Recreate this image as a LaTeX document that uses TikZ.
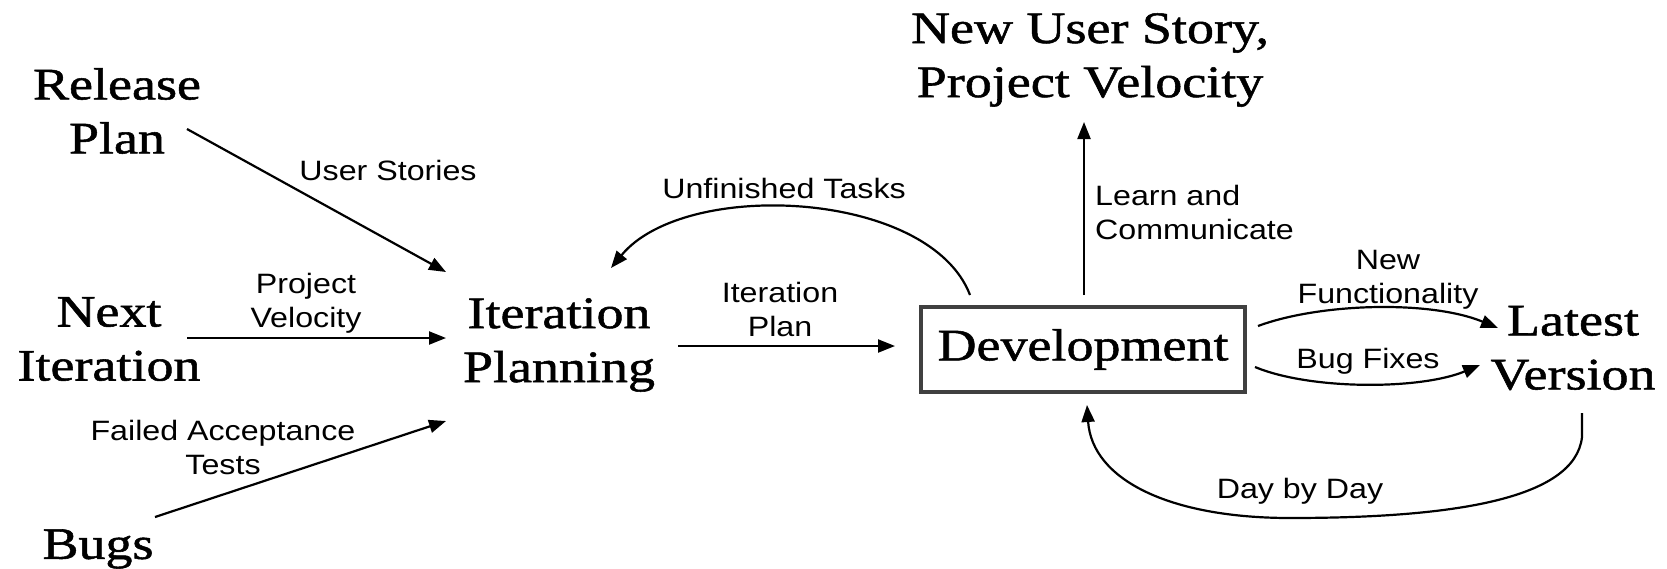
\documentclass[tikz,border=0pt]{standalone}
\usepackage{fontspec}
\usetikzlibrary{arrows.meta}
\newfontfamily\serifbig[FakeStretch=1.2, FakeBold=1.2]{Liberation Serif}
\newfontfamily\sanslbl[FakeStretch=1.15]{Liberation Sans}
\tikzset{
  big/.style={font=\serifbig\fontsize{45}{54}\selectfont, align=center, inner sep=0pt},
  lbl/.style={font=\sanslbl\fontsize{28}{34}\selectfont, align=center, inner sep=0pt},
  flow/.style={line width=2.2pt, -{Triangle[length=17pt,width=13pt]}},
  devbox/.style={draw=black!75, line width=3.5pt, minimum width=324pt, minimum height=85pt, inner sep=0pt}
}
\begin{document}
\begin{tikzpicture}[x=1pt, y=-1pt]
\useasboundingbox (0,0) rectangle (1667,568);

% main stations
\node[big] (rel)  at (117,111) {Release\\Plan};
\node[big] (next) at (109,339) {Next\\Iteration};
\node[big] (bugs) at (98,549)  {Bugs};
\node[big] (ip)   at (559,345) {Iteration\\Planning};
\node[big, devbox] (dev) at (1083,349.5) {Development};
\node[big] (lat)  at (1573,348) {Latest\\Version};
\node[big] (nus)  at (1090,60)  {New User Story,\\Project Velocity};

% connector end points
\coordinate (relOut)  at (187,129);
\coordinate (ipInA)   at (446,272);
\coordinate (nextOut) at (187,338);
\coordinate (ipInB)   at (446,338);
\coordinate (bugsOut) at (155,517);
\coordinate (ipInC)   at (446,421);
\coordinate (ipOut)   at (678,346);
\coordinate (devIn)   at (895,346);
\coordinate (devTopL) at (970,295);
\coordinate (ipTop)   at (611,268);
\coordinate (devTop)  at (1084,295);
\coordinate (nusIn)   at (1084,122);
\coordinate (devOutA) at (1258,326);
\coordinate (latInA)  at (1498,328);
\coordinate (devOutB) at (1255,367);
\coordinate (latInB)  at (1480,365);
\coordinate (latOut)  at (1582,413);
\coordinate (devBot)  at (1087,405);

% inputs to iteration planning
\draw[flow] (relOut) -- (ipInA);
\draw[flow] (nextOut) -- (ipInB);
\draw[flow] (bugsOut) -- (ipInC);
\node[lbl, anchor=base] (lUS) at (388,180) {User Stories};
\node[lbl] (lPV) at (306,303.5) {Project\\Velocity};
\node[lbl] (lFA) at (223,447.5) {Failed Acceptance\\Tests};

% iteration planning to development
\draw[flow] (ipOut) -- (devIn);
\node[lbl] (lIP) at (780,309.5) {Iteration\\Plan};

% unfinished tasks loop
\draw[flow] (devTopL) .. controls (930,190) and (685,178) .. (ipTop);
\node[lbl, anchor=base] (lUT) at (784,198) {Unfinished Tasks};

% learn and communicate
\draw[flow] (devTop) -- (nusIn);
\node[lbl, anchor=west, align=left] (lLC) at (1095,212.5) {Learn and\\Communicate};

% outputs to latest version
\draw[flow] (devOutA) .. controls (1320,303) and (1430,300) .. (latInA);
\node[lbl] (lNF) at (1388,279.5) {New\\Functionality};
\draw[flow] (devOutB) .. controls (1310,390) and (1420,390) .. (latInB);
\node[lbl, anchor=base] (lBF) at (1368,368) {Bug Fixes};

% day by day feedback
\draw[flow] (latOut) -- (1582,437) .. controls (1575,500) and (1450,518) .. (1290,518)
  .. controls (1170,518) and (1092,480) .. (devBot);
\node[lbl, anchor=base] (lDD) at (1300,498) {Day by Day};
\end{tikzpicture}
\end{document}
